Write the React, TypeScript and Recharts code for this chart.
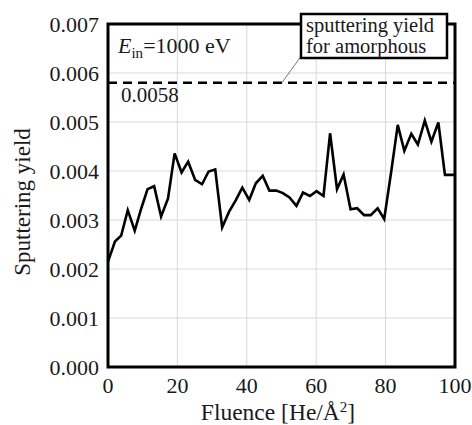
import {
  CartesianGrid,
  Line,
  LineChart,
  ReferenceArea,
  ReferenceLine,
  XAxis,
  YAxis
} from "recharts";

const fluence = [
  0, 2, 3.8, 5.7, 7.7, 9.6, 11.4, 13.3, 15.3, 17.3, 19.2, 21.2, 23.1, 25.1,
  27.1, 29, 30.9, 32.9, 34.9, 36.8, 38.7, 40.7, 42.6, 44.6, 46.5, 48.5, 50.4,
  52.3, 54.3, 56.2, 58.2, 60.1, 62.1, 64, 66, 67.9, 69.9, 71.8, 73.8, 75.7,
  77.7, 79.6, 81.6, 83.5, 85.4, 87.4, 89.3, 91.3, 93.2, 95.2, 97.1, 99.1, 100
];

const sputterYield = [
  0.00215, 0.00256, 0.00268, 0.0032, 0.00278, 0.00324, 0.00363, 0.00369,
  0.00307, 0.00344, 0.00436, 0.00397, 0.00419, 0.00382, 0.00373, 0.00399,
  0.00403, 0.00285, 0.00317, 0.0034, 0.00366, 0.00341, 0.00375, 0.0039,
  0.0036, 0.0036, 0.00355, 0.00346, 0.00329, 0.00356, 0.00349, 0.00359,
  0.00349, 0.00477, 0.00363, 0.00393, 0.00322, 0.00324, 0.0031, 0.0031,
  0.00324, 0.00302, 0.00398, 0.00494, 0.00441, 0.00476, 0.00454, 0.00503,
  0.0046, 0.00499, 0.00392, 0.00392, 0.00392
];

const xTicks = [0, 20, 40, 60, 80, 100];
const yTicks = [0, 0.001, 0.002, 0.003, 0.004, 0.005, 0.006, 0.007];
const amorphousYield = 0.0058;

const data = fluence.map((x, i) => ({ x, y: sputterYield[i] }));

const serif = "'Liberation Serif', 'DejaVu Serif', serif";
const tickStyle = { fontSize: 22, fill: "#1a1a1a", fontFamily: serif };

export default function App() {
  return (
    <div style={{ position: "absolute", left: 0, top: 0, width: 472, height: 425 }}>
      <LineChart
        width={472}
        height={425}
        data={data}
        margin={{ top: 24, right: 17, bottom: 0, left: 0 }}>
        <CartesianGrid stroke="#d9d9d9" strokeWidth={1} />
        <XAxis
          type="number"
          dataKey="x"
          domain={[0, 100]}
          ticks={xTicks}
          height={58}
          axisLine={false}
          tickLine={false}
          tickMargin={4}
          tick={tickStyle}
          interval={0}
        />
        <YAxis
          type="number"
          domain={[0, 0.007]}
          ticks={yTicks}
          width={108}
          axisLine={false}
          tickLine={false}
          tickMargin={3}
          tick={tickStyle}
          interval={0}
          tickFormatter={(v: number) => v.toFixed(3)}
        />
        <ReferenceLine
          y={amorphousYield}
          stroke="#000"
          strokeWidth={2.5}
          strokeDasharray="9 6"
        />
        <ReferenceLine
          segment={[
            { x: 50.1, y: amorphousYield },
            { x: 55.3, y: 0.00631 }
          ]}
          stroke="#777"
          strokeWidth={1}
          ifOverflow="visible"
        />
        <Line
          type="linear"
          dataKey="y"
          stroke="#000"
          strokeWidth={2.6}
          dot={false}
          isAnimationActive={false}
        />
        <ReferenceArea
          x1={0}
          x2={100}
          y1={0}
          y2={0.007}
          fill="none"
          stroke="#000"
          strokeWidth={3}
          ifOverflow="visible"
        />
      </LineChart>
      <svg
        width={472}
        height={425}
        style={{ position: "absolute", left: 0, top: 0, pointerEvents: "none" }}
        fontFamily={serif}
        fill="#1a1a1a">
        <rect x={301} y={14} width={146} height={44} fill="#fff" stroke="#000" strokeWidth={2.5} />
        <text x={306} y={32} fontSize={20.5}>sputtering yield</text>
        <text x={306} y={53} fontSize={20.5}>for amorphous</text>
        <text x={118} y={53} fontSize={22}>
          <tspan fontStyle="italic">E</tspan>
          <tspan fontSize={15} dy={5}>in</tspan>
          <tspan dy={-5}>=1000 eV</tspan>
        </text>
        <text x={121} y={102} fontSize={21}>0.0058</text>
        <text x={278} y={420} fontSize={23.5} textAnchor="middle">
          Fluence [He/Å<tspan fontSize={15} dy={-8}>2</tspan>
          <tspan dy={8}>]</tspan>
        </text>
        <text
          x={0}
          y={0}
          fontSize={23}
          textAnchor="middle"
          transform="translate(30 202) rotate(-90)">
          Sputtering yield
        </text>
      </svg>
    </div>
  );
}
